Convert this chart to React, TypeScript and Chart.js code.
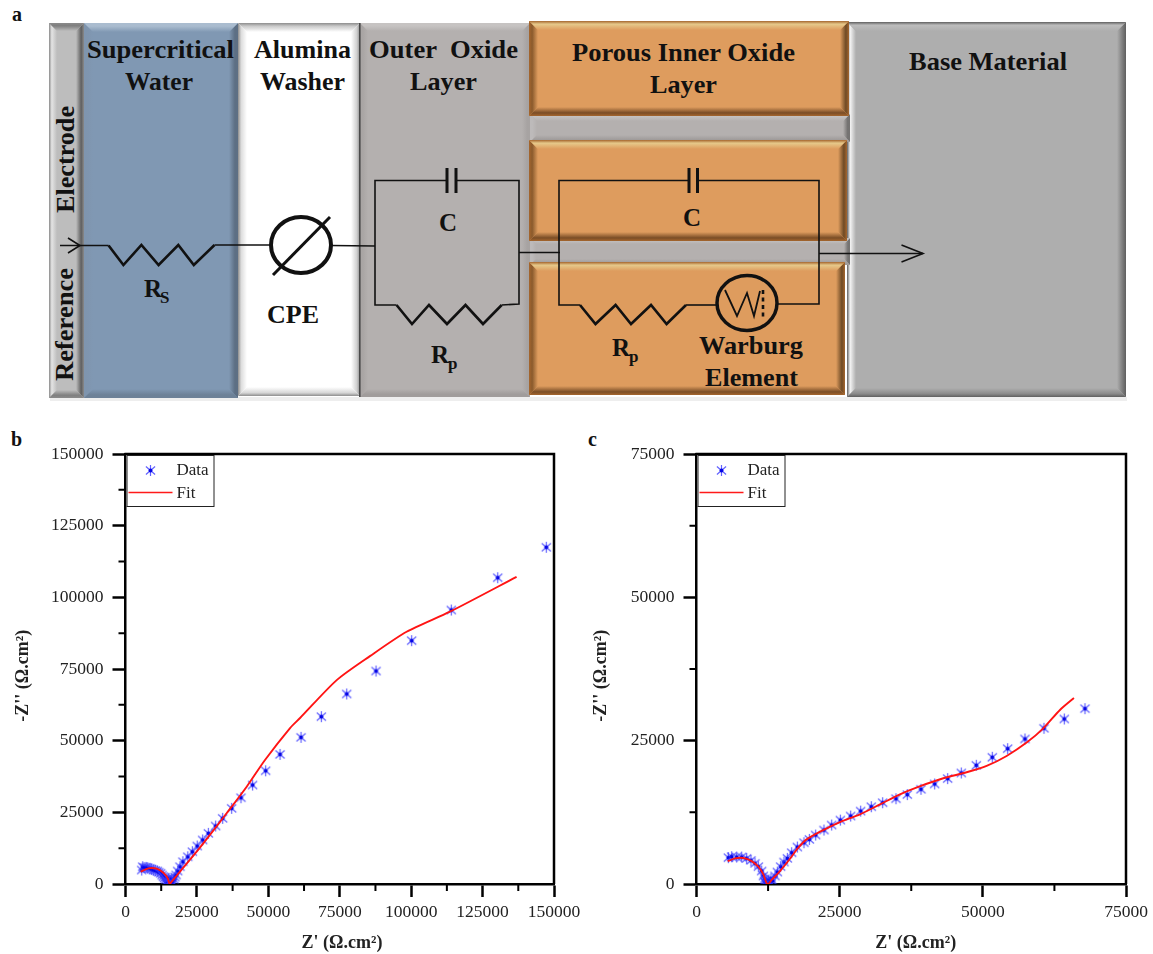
import React, { useEffect, useRef } from "react";
import { Chart, registerables } from "chart.js";

Chart.register(...registerables);

// ---------- Data ----------
const bDataX = [5670, 6020, 6500, 7175, 7800, 8575, 9150, 9730, 10400, 11130, 11700, 12320, 12800, 13230, 13650, 14070, 14300, 14420, 14500, 14700, 14950, 15200, 15400, 15600, 15800, 16000, 16200, 16500, 16980, 17300, 17680, 18270, 19070, 20100, 21800, 23400, 25100, 27000, 29000, 31560, 34000, 37160, 40430, 44500, 49070, 54100, 61440, 68550, 77430, 87690, 100180, 114050, 130300, 147300];
const bDataY = [4880, 6030, 5700, 5820, 5650, 5470, 5200, 4880, 4700, 4530, 4100, 3730, 3100, 2550, 2100, 1640, 1000, 450, 150, 1000, 300, 2000, 600, 150, 1200, 300, 1800, 450, 1640, 2400, 3140, 4530, 6030, 7780, 9500, 11260, 13250, 15350, 17670, 20230, 22900, 26400, 30100, 34530, 39500, 45200, 51170, 58370, 66280, 74300, 84880, 95580, 106850, 117450];
const bFitX = [5310, 7990, 10900, 13250, 14770, 15470, 16170, 19070, 24900, 31330, 37170, 42420, 48830, 57600, 61100, 73930, 85570, 98400, 113580, 136900];
const bFitY = [4290, 5470, 5340, 3940, 1990, 0, 800, 4290, 11260, 19410, 26970, 33930, 43260, 54400, 57900, 71130, 79500, 88000, 95000, 107150];

const cDataX = [5558, 6140, 7013, 7886, 8759, 9516, 10214, 10796, 11378, 11670, 11843, 11950, 12050, 12135, 12250, 12426, 12600, 12834, 13000, 13298, 13706, 14113, 14695, 15277, 15860, 16616, 17606, 18770, 19700, 20806, 22260, 23600, 25113, 26918, 28664, 30526, 32505, 34833, 36811, 39198, 41584, 43854, 46240, 48859, 51652, 54330, 57356, 60673, 64223, 67832];
const cDataY = [4590, 4760, 4700, 4700, 4470, 4120, 3600, 3020, 2260, 1400, 520, 900, 250, 115, 600, 100, 500, 115, 900, 520, 1400, 2090, 3020, 3830, 4470, 5460, 6450, 7200, 7780, 8540, 9410, 10280, 11150, 11850, 12720, 13480, 14180, 14870, 15593, 16522, 17452, 18382, 19369, 20705, 22100, 23610, 25295, 27155, 28781, 30582];
const cFitX = [5442, 6722, 8177, 9632, 10796, 11670, 12250, 12542, 13124, 14579, 16325, 17780, 19235, 22145, 25055, 28547, 32039, 35531, 38732, 43097, 47171, 50663, 54155, 57647, 60557, 63467, 65911];
const cFitY = [3990, 4470, 4530, 4000, 3020, 1680, 115, 0, 700, 2260, 4410, 6330, 7780, 9410, 10805, 12140, 13885, 15650, 16950, 18440, 19485, 20590, 22330, 24660, 27155, 30350, 32440];

const seriesNames = ["Data", "Fit"];
const xTitle = "Z' (Ω.cm²)";
const yTitle = "-Z'' (Ω.cm²)";

const SERIF = '"Liberation Serif", "Times New Roman", serif';
const zip = (xs: number[], ys: number[]) => xs.map((x, i) => ({ x, y: ys[i] }));

function makeStar() {
  const c = document.createElement("canvas");
  c.width = 13;
  c.height = 13;
  const g = c.getContext("2d")!;
  g.translate(6.5, 6.5);
  g.strokeStyle = "rgba(60,60,255,0.8)";
  g.lineWidth = 1.2;
  const r = 5.4;
  g.beginPath();
  g.moveTo(0, -r); g.lineTo(0, r);
  g.moveTo(-r * 0.85, -r * 0.75); g.lineTo(r * 0.85, r * 0.75);
  g.moveTo(-r * 0.85, r * 0.75); g.lineTo(r * 0.85, -r * 0.75);
  g.stroke();
  g.fillStyle = "#0606e6";
  g.beginPath();
  g.arc(0, 0, 2, 0, Math.PI * 2);
  g.fill();
  return c;
}

const framePlugin = {
  id: "frame",
  afterDraw(chart: any) {
    const { ctx, chartArea: a, scales } = chart;
    const o = chart.options.plugins.frame;
    ctx.save();
    ctx.strokeStyle = "#000";
    ctx.lineWidth = 2.5;
    ctx.beginPath();
    ctx.moveTo(a.left - 1, a.top);
    ctx.lineTo(a.right, a.top);
    ctx.lineTo(a.right, a.bottom);
    ctx.stroke();
    // minor ticks
    ctx.lineWidth = 2;
    ctx.beginPath();
    o.minorX.forEach((v: number) => {
      const p = scales.x.getPixelForValue(v);
      ctx.moveTo(p, a.bottom);
      ctx.lineTo(p, a.bottom + 7);
    });
    o.minorY.forEach((v: number) => {
      const p = scales.y.getPixelForValue(v);
      ctx.moveTo(a.left, p);
      ctx.lineTo(a.left - 7, p);
    });
    ctx.stroke();
    // legend box
    const lx = a.left + 1, ly = a.top + 1, lw = 87, lh = 51;
    ctx.fillStyle = "#fff";
    ctx.fillRect(lx, ly, lw, lh);
    ctx.lineWidth = 1;
    ctx.strokeStyle = "#222";
    ctx.strokeRect(lx + 0.5, ly + 0.5, lw, lh);
    const star = chart.data.datasets[0].pointStyle;
    ctx.drawImage(star, lx + 17.5, ly + 9);
    ctx.strokeStyle = "#ff1a1a";
    ctx.lineWidth = 1.6;
    ctx.beginPath();
    ctx.moveTo(lx + 2, ly + 37.5);
    ctx.lineTo(lx + 46, ly + 37.5);
    ctx.stroke();
    ctx.fillStyle = "#222";
    ctx.font = `17px ${SERIF}`;
    ctx.textAlign = "left";
    ctx.textBaseline = "alphabetic";
    ctx.fillText(chart.data.datasets[0].label, lx + 50, ly + 20);
    ctx.fillText(chart.data.datasets[1].label, lx + 50, ly + 43);
    ctx.restore();
  },
};

function buildConfig(cfg: {
  dataX: number[]; dataY: number[]; fitX: number[]; fitY: number[];
  xMax: number; yMax: number; minorX: number[]; minorY: number[];
  yWidth: number; right: number; yTitlePad: number; xTitleLead: string;
}) {
  const axis = {
    type: "linear",
    min: 0,
    border: { display: true, color: "#000", width: 2.5 },
    grid: { drawOnChartArea: false, drawTicks: true, tickLength: 13, tickColor: "#000", tickWidth: 2.5, color: "#000" },
  };
  const tickFont = { family: SERIF, size: 17.5 };
  const titleFont = { family: SERIF, size: 18, weight: "bold" };
  const plain = (v: any) => String(v);
  return {
    type: "scatter",
    data: {
      datasets: [
        {
          label: seriesNames[0],
          data: zip(cfg.dataX, cfg.dataY),
          pointStyle: makeStar(),
          pointRadius: 5,
          showLine: false,
          order: 2,
        },
        {
          label: seriesNames[1],
          data: zip(cfg.fitX, cfg.fitY),
          showLine: true,
          pointRadius: 0,
          borderColor: "#ff1414",
          borderWidth: 1.9,
          tension: 0.25,
          order: 1,
        },
      ],
    },
    options: {
      animation: false,
      responsive: false,
      layout: { padding: { left: 0, right: cfg.right, top: 24, bottom: 0 } },
      plugins: {
        legend: { display: false },
        tooltip: { enabled: false },
        frame: { minorX: cfg.minorX, minorY: cfg.minorY },
      },
      scales: {
        x: {
          ...axis,
          max: cfg.xMax,
          afterFit: (s: any) => { s.height = 70; s.paddingRight = 0; s.paddingLeft = 0; },
          ticks: { stepSize: 25000, autoSkip: false, maxRotation: 0, color: "#222", padding: 5, font: tickFont, callback: plain },
          title: { display: true, text: cfg.xTitleLead + xTitle, color: "#222", font: titleFont, padding: { top: 0, bottom: 0 } },
        },
        y: {
          ...axis,
          max: cfg.yMax,
          afterFit: (s: any) => { s.width = cfg.yWidth; s.paddingTop = 0; s.paddingBottom = 0; },
          ticks: { stepSize: 25000, autoSkip: false, color: "#222", padding: 9, font: tickFont, callback: plain },
          title: { display: true, text: yTitle + "   ", color: "#222", font: titleFont, padding: { top: cfg.yTitlePad, bottom: 0 } },
        },
      },
    },
    plugins: [framePlugin],
  };
}

// ---------- Diagram helpers ----------
type BoxProps = { id: string; x: number; y: number; w: number; h: number; bw?: number; base: string; t: string; l: string; r: string; b: string; edge?: string };

function Box({ id, x, y, w, h, bw = 9, base, t, l, r, b, edge }: BoxProps) {
  const x2 = x + w, y2 = y + h;
  return (
    <g>
      <defs>
        <linearGradient id={id + "t"} x1="0" y1="0" x2="0" y2="1"><stop offset="0" stopColor={edge || t} /><stop offset="0.35" stopColor={t} /><stop offset="1" stopColor={base} /></linearGradient>
        <linearGradient id={id + "b"} x1="0" y1="1" x2="0" y2="0"><stop offset="0" stopColor={edge || b} /><stop offset="0.35" stopColor={b} /><stop offset="1" stopColor={base} /></linearGradient>
        <linearGradient id={id + "l"} x1="0" y1="0" x2="1" y2="0"><stop offset="0" stopColor={edge || l} /><stop offset="0.35" stopColor={l} /><stop offset="1" stopColor={base} /></linearGradient>
        <linearGradient id={id + "r"} x1="1" y1="0" x2="0" y2="0"><stop offset="0" stopColor={edge || r} /><stop offset="0.35" stopColor={r} /><stop offset="1" stopColor={base} /></linearGradient>
      </defs>
      <rect x={x} y={y} width={w} height={h} fill={base} />
      <polygon points={`${x},${y} ${x + bw},${y + bw} ${x + bw},${y2 - bw} ${x},${y2}`} fill={`url(#${id}l)`} />
      <polygon points={`${x2},${y} ${x2 - bw},${y + bw} ${x2 - bw},${y2 - bw} ${x2},${y2}`} fill={`url(#${id}r)`} />
      <polygon points={`${x},${y} ${x2},${y} ${x2 - bw},${y + bw} ${x + bw},${y + bw}`} fill={`url(#${id}t)`} />
      <polygon points={`${x},${y2} ${x2},${y2} ${x2 - bw},${y2 - bw} ${x + bw},${y2 - bw}`} fill={`url(#${id}b)`} />
    </g>
  );
}

function T({ x, y, w, s = 25, children, rot, color = "#111" }: any) {
  const tr = rot ? `rotate(${rot} ${x} ${y})` : undefined;
  return (
    <text x={x} y={y} transform={tr} fontFamily={SERIF} fontWeight="bold" fontSize={s} fill={color}
      textLength={w} lengthAdjust={w ? "spacingAndGlyphs" : undefined} style={{ whiteSpace: "pre" }}>
      {children}
    </text>
  );
}

const wire = { fill: "none", stroke: "#111", strokeWidth: 1.6, strokeLinejoin: "miter" as const };
const zig = { fill: "none", stroke: "#111", strokeWidth: 2.6, strokeLinejoin: "miter" as const };
const orange = { base: "#de9c5e", t: "#e6c98a", l: "#8a5a2c", r: "#6e4a25", b: "#7a4d26", edge: "#a5662e" };
const strip = { base: "#b4b0af", t: "#c4c1c0", l: "#bdbaba", r: "#757372", b: "#a09c9b" };

function Diagram() {
  return (
    <svg width={1153} height={954} style={{ position: "absolute", left: 0, top: 0 }}>
      <rect width={1153} height={954} fill="#fff" />
      <rect x={50} y={397} width={1077} height={4} fill="#ddd" opacity={0.5} />
      <Box id="el" x={49} y={23} w={35} h={375} bw={8} base="#bdbdbd" t="#7f7f7f" l="#e4e4e4" r="#5f5f5f" b="#7f7f7f" edge="#8a8a8a" />
      <Box id="sw" x={84} y={23} w={154} h={375} bw={9} base="#8098b3" t="#aabccf" l="#7f95ae" r="#5d6f84" b="#6d8197" />
      <Box id="aw" x={238} y={23} w={122} h={373} bw={9} base="#ffffff" t="#c9c9c9" l="#dcdcdc" r="#cfcfcf" b="#d6d6d6" edge="#8d8d8d" />
      <Box id="oo" x={360} y={23} w={170} h={374} bw={8} base="#b4b0af" t="#c6c3c2" l="#a9a5a4" r="#a7a3a2" b="#a09c9b" />
      <rect x={359} y={23} width={1.6} height={374} fill="#4a4a4a" />
      <Box id="bm" x={847} y={22} w={279} h={375} bw={9} base="#aeaeae" t="#bdbdbd" l="#f4f4f4" r="#7a7a7a" b="#8a8a8a" edge="#5f5f5f" />
      <Box id="g1" x={530} y={114} w={320} h={28} bw={7} {...strip} />
      <Box id="g2" x={530} y={238} w={320} h={27} bw={6} {...strip} />
      <Box id="p1" x={529} y={21} w={320} h={95} bw={9} {...orange} />
      <Box id="p2" x={529} y={140} w={318} h={101} bw={9} {...orange} />
      <Box id="p3" x={529} y={262} w={316} h={133} bw={9} {...orange} />

      {/* Circuit */}
      <polyline {...wire} points="60,245.5 108.6,245.5" />
      <polyline {...wire} points="68,238 80,245.5 68,253" />
      <polyline {...zig} points="108.6,245.5 123.4,265 141.4,245 158.6,265 178.3,245 193.8,265 214.5,245" />
      <polyline {...wire} points="214.5,245 270,245" />
      <ellipse cx={301} cy={245} rx={30} ry={28} fill="none" stroke="#111" strokeWidth={4} />
      <line x1={273} y1={275} x2={330} y2={217} stroke="#111" strokeWidth={3} />
      <polyline {...wire} points="331,245.5 375,246" />
      <polyline {...wire} points="447,180.5 375,180.5 375,305 396.5,305" />
      <polyline {...wire} points="456,180.5 519,180.5 519,304 501.7,305" />
      <line x1={447} y1={168} x2={447} y2={193} stroke="#111" strokeWidth={3} />
      <line x1={456} y1={168} x2={456} y2={193} stroke="#111" strokeWidth={3} />
      <polyline {...zig} points="396.5,305 412,324 429,305 447,324 465.5,305 483,324 501.7,305" />
      <polyline {...wire} points="519,252.5 560,252.5" />
      <polyline {...wire} points="689,180.5 559,180.5 559,305 580,305" />
      <polyline {...wire} points="697.5,180.5 819,180.5 819,304 777,304" />
      <line x1={689} y1={168} x2={689} y2={193} stroke="#111" strokeWidth={3} />
      <line x1={697.5} y1={168} x2={697.5} y2={193} stroke="#111" strokeWidth={3} />
      <polyline {...zig} points="580,305 595.5,324 615.6,305 631,324 651,305 666.6,324 686,305" />
      <polyline {...wire} points="686,305 717,305" />
      <ellipse cx={747} cy={303} rx={30} ry={27.5} fill="none" stroke="#111" strokeWidth={3.5} />
      <polyline fill="none" stroke="#111" strokeWidth={1.8} points="725,290 737,316 747,293 754,316 760,291" />
      <line x1={763} y1={290} x2={763} y2={317} stroke="#111" strokeWidth={2.6} strokeDasharray="4 3.5" />
      <polyline {...wire} points="819,253.5 923,253.5" />
      <polyline {...wire} points="901.5,245 923,253.5 901.5,262" />

      {/* Labels */}
      <T x={12} y={21} s={20}>a</T>
      <T x={11} y={446} s={20}>b</T>
      <T x={588} y={446} s={20}>c</T>
      <T x={87} y={58} w={147}>Supercritical</T>
      <T x={125} y={90} w={68}>Water</T>
      <T x={254} y={58} w={97}>Alumina</T>
      <T x={260} y={90} w={85}>Washer</T>
      <T x={369} y={58} w={149}>{"Outer  Oxide"}</T>
      <T x={410} y={90} w={67}>Layer</T>
      <T x={572} y={61} w={223}>Porous Inner Oxide</T>
      <T x={650} y={93} w={67}>Layer</T>
      <T x={909} y={70} w={158}>Base Material</T>
      <T x={439} y={231}>C</T>
      <T x={683} y={226}>C</T>
      <T x={144} y={297}>R</T>
      <T x={160} y={303} s={17}>S</T>
      <T x={431} y={363}>R</T>
      <T x={448} y={369} s={17}>p</T>
      <T x={612} y={356}>R</T>
      <T x={629} y={362} s={17}>p</T>
      <T x={267} y={323} w={52}>CPE</T>
      <T x={699} y={354} w={104}>Warburg</T>
      <T x={705} y={386} w={93}>Element</T>
      <T x={74} y={213} w={107} rot={-90}>Electrode</T>
      <T x={73} y={381} w={113} rot={-90}>Reference</T>
    </svg>
  );
}

export default function App() {
  const bRef = useRef<HTMLCanvasElement>(null);
  const cRef = useRef<HTMLCanvasElement>(null);
  useEffect(() => {
    const b = new Chart(bRef.current!, buildConfig({
      dataX: bDataX, dataY: bDataY, fitX: bFitX, fitY: bFitY,
      xMax: 150000, yMax: 150000,
      minorX: [12500, 37500, 62500, 87500, 112500, 137500],
      minorY: [12500, 37500, 62500, 87500, 112500, 137500],
      yWidth: 125.5, right: 46, yTitlePad: 13, xTitleLead: " ",
    }) as any);
    const c = new Chart(cRef.current!, buildConfig({
      dataX: cDataX, dataY: cDataY, fitX: cFitX, fitY: cFitY,
      xMax: 75000, yMax: 75000,
      minorX: [12500, 37500, 62500],
      minorY: [12500, 37500, 62500],
      yWidth: 120.5, right: 27, yTitlePad: 15, xTitleLead: "  ",
    }) as any);
    return () => { b.destroy(); c.destroy(); };
  }, []);
  return (
    <div style={{ position: "absolute", left: 0, top: 0, width: 1153, height: 954, overflow: "hidden", background: "#fff", filter: "blur(0.45px)" }}>
      <Diagram />
      <canvas ref={bRef} width={600} height={524} style={{ position: "absolute", left: 0, top: 430 }} />
      <canvas ref={cRef} width={577} height={524} style={{ position: "absolute", left: 576, top: 430 }} />
    </div>
  );
}
